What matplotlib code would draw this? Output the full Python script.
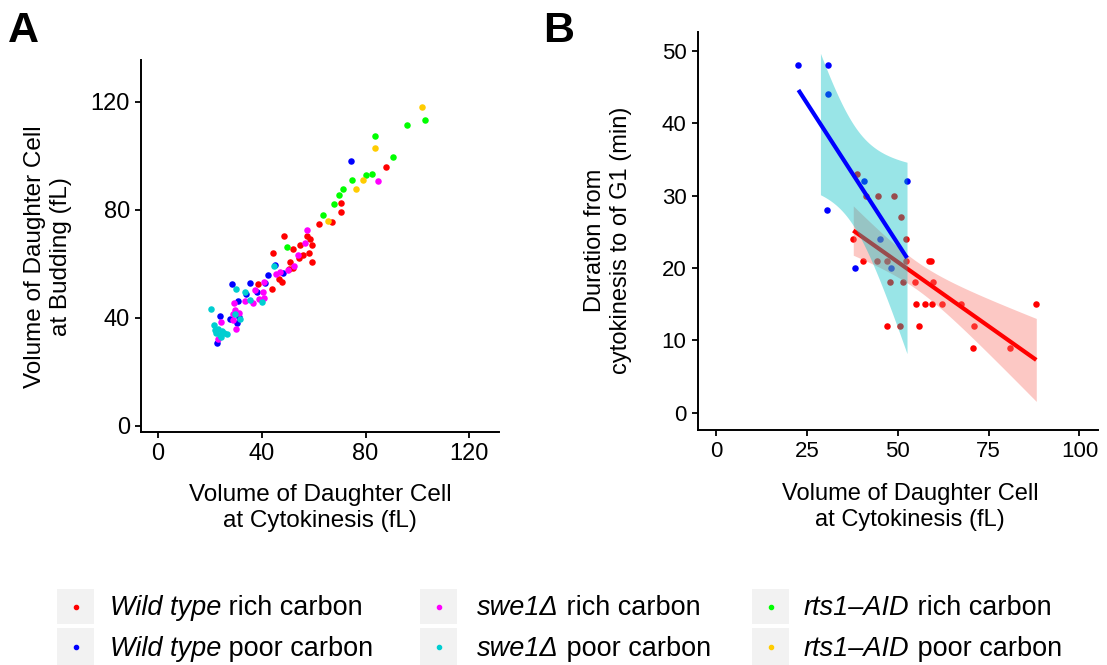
import numpy as np
import matplotlib
matplotlib.use("Agg")
import matplotlib.pyplot as plt
from matplotlib.patches import Rectangle
from matplotlib.lines import Line2D

plt.rcParams['font.family'] = ['Liberation Sans', 'DejaVu Sans']

W, H = 1107, 665

# ---------------- panel A data (volume at cytokinesis vs budding) ----------------
wt_rich_x = [87.9, 70.6, 70.6, 67.1, 62.1, 48.7, 57.3, 58.6, 59.2, 54.7, 51.9, 44.2,
             58.3, 56.0, 54.2, 50.9, 59.5, 52.2, 50.4, 46.7, 47.7, 43.9, 38.5]
wt_rich_y = [95.8, 82.3, 79.3, 75.3, 74.6, 70.2, 70.4, 69.0, 66.9, 66.9, 65.4, 63.8,
             63.8, 63.2, 62.0, 60.7, 60.7, 58.3, 57.9, 54.2, 53.3, 50.7, 52.3]
wt_poor_x = [74.2, 28.7, 35.3, 33.8, 30.8, 42.6, 45.0, 41.3, 38.1, 48.1, 24.1, 27.8,
             30.6, 22.7, 31.4]
wt_poor_y = [98.0, 52.3, 52.7, 48.8, 46.2, 55.8, 59.5, 52.7, 49.6, 56.7, 40.7, 39.4,
             37.9, 30.7, 40.4]
swe_rich_x = [84.7, 57.6, 56.5, 53.8, 52.4, 50.3, 47.0, 45.4, 40.9, 37.4, 40.4, 41.0,
              39.0, 36.8, 33.6, 29.4, 29.7, 31.4, 29.1, 28.8, 30.1, 24.2, 23.3]
swe_rich_y = [90.7, 72.5, 67.8, 63.1, 59.1, 57.7, 57.0, 56.2, 53.2, 50.2, 49.4, 47.4,
              46.8, 45.6, 46.2, 45.3, 42.8, 41.6, 41.4, 39.1, 35.7, 38.4, 32.3]
swe_poor_x = [20.6, 30.1, 33.6, 35.3, 40.1, 44.6, 29.9, 31.7, 21.8, 22.1, 23.3, 24.6,
              25.5, 26.5, 24.0, 22.4, 24.4]
swe_poor_y = [43.1, 50.5, 49.6, 46.5, 45.8, 59.3, 41.4, 39.4, 37.3, 35.4, 36.0, 35.2,
              34.2, 33.8, 33.6, 34.4, 33.0]
rts_rich_x = [102.9, 95.9, 83.8, 90.6, 82.3, 80.1, 74.6, 71.5, 69.7, 67.7, 63.7, 49.7]
rts_rich_y = [113.2, 111.4, 107.3, 99.6, 93.2, 92.8, 91.1, 87.8, 85.3, 82.0, 78.1, 66.3]
rts_poor_x = [101.8, 83.8, 79.1, 76.2, 65.6]
rts_poor_y = [118.1, 102.7, 91.0, 87.5, 75.7]

# ---------------- panel B data (wild type only) ----------------
b_rich_x = [38.8, 41.2, 44.5, 48.9, 50.9, 37.7, 52.2, 40.3, 44.2, 46.9, 52.2, 58.5,
            59.1, 47.8, 51.5, 54.6, 59.7, 54.9, 57.5, 59.4, 62.2, 67.3, 88.1, 46.9,
            50.5, 55.9, 70.9, 70.7, 80.9]
b_rich_y = [33, 30, 30, 30, 27, 24, 24, 21, 21, 21, 21, 21,
            21, 18, 18, 18, 18, 15, 15, 15, 15, 15, 15, 12,
            12, 12, 12, 9, 9]
b_poor_x = [22.6, 30.7, 30.7, 30.4, 40.7, 52.5, 38.2, 45.0, 48.2]
b_poor_y = [48, 48, 44, 28, 32, 32, 20, 24, 20]

colors = {
    'wt_rich': '#FF0000', 'wt_poor': '#0000FF',
    'swe_rich': '#FF00FF', 'swe_poor': '#00CED1',
    'rts_rich': '#00FF00', 'rts_poor': '#FFCC00',
}

fig = plt.figure(figsize=(W / 100, H / 100), dpi=100)


def px_axes(l, t, r, b):
    return fig.add_axes([l / W, 1 - b / H, (r - l) / W, (b - t) / H])


def style(ax, size):
    for s in ['top', 'right']:
        ax.spines[s].set_visible(False)
    for s in ['left', 'bottom']:
        ax.spines[s].set_linewidth(1.4)
    ax.tick_params(direction='out', length=4, width=1.3, pad=4,
                   labelsize=size, colors='black')


# ---- panel A ----
axA = px_axes(141, 60, 499, 432)
pts = [(wt_rich_x, wt_rich_y, 'wt_rich'), (wt_poor_x, wt_poor_y, 'wt_poor'),
       (swe_rich_x, swe_rich_y, 'swe_rich'), (swe_poor_x, swe_poor_y, 'swe_poor'),
       (rts_rich_x, rts_rich_y, 'rts_rich'), (rts_poor_x, rts_poor_y, 'rts_poor')]
for xs, ys, key in pts:
    axA.scatter(xs, ys, s=22, color=colors[key], linewidths=0, zorder=3)
axA.set_xlim(-6.5, 131.4)
axA.set_ylim(-2.3, 135.4)
axA.set_xticks([0, 40, 80, 120])
axA.set_yticks([0, 40, 80, 120])
style(axA, 17)

# ---- panel B ----
axB = px_axes(697.5, 32, 1098, 430)
axB.scatter(b_rich_x, b_rich_y, s=22, color=colors['wt_rich'], linewidths=0, zorder=2)
axB.scatter(b_poor_x, b_poor_y, s=22, color=colors['wt_poor'], linewidths=0, zorder=2)


def smooth(ax, xs, ys, tval, line_c, fill_c, z):
    x = np.asarray(xs, float)
    y = np.asarray(ys, float)
    slope, icpt = np.polyfit(x, y, 1)
    n = len(x)
    res = y - (slope * x + icpt)
    s = np.sqrt(np.sum(res ** 2) / (n - 2))
    sxx = np.sum((x - x.mean()) ** 2)
    gx = np.linspace(x.min(), x.max(), 80)
    fit = slope * gx + icpt
    se = s * np.sqrt(1 / n + (gx - x.mean()) ** 2 / sxx)
    lo, hi = fit - tval * se, fit + tval * se
    ok = (hi <= 50) & (lo >= 0)   # values outside the y limits are dropped
    ax.fill_between(gx[ok], lo[ok], hi[ok], color=fill_c, alpha=0.4,
                    linewidth=0, zorder=z)
    ax.plot(gx, fit, color=line_c, lw=3, solid_capstyle='butt', zorder=z + 0.5)


smooth(axB, b_rich_x, b_rich_y, 2.052, '#FF0000', '#F8766D', 4)
smooth(axB, b_poor_x, b_poor_y, 2.365, '#0000FF', '#00BFC4', 5)
axB.set_xlim(-5.2, 105.1)
axB.set_ylim(-2.4, 52.6)
axB.set_xticks([0, 25, 50, 75, 100])
axB.set_yticks([0, 10, 20, 30, 40, 50])
style(axB, 16)


def ftext(x, y, s, **kw):
    return fig.text(x / W, 1 - y / H, s, **kw)


# axis titles
ftext(48, 257, 'Volume of Daughter Cell\nat Budding (fL)', rotation=90,
      ha='center', va='center', fontsize=17.5, multialignment='center')
ftext(320, 508, 'Volume of Daughter Cell\nat Cytokinesis (fL)',
      ha='center', va='center', fontsize=17.5, multialignment='center')
ftext(608, 240, 'Duration from\ncytokinesis to of G1 (min)', rotation=90,
      ha='center', va='center', fontsize=17, multialignment='center')
ftext(910, 507, 'Volume of Daughter Cell\nat Cytokinesis (fL)',
      ha='center', va='center', fontsize=17, multialignment='center')

# panel letters
ftext(8, 42, 'A', fontsize=31, fontweight='bold', ha='left', va='baseline')
ftext(543, 42, 'B', fontsize=31, fontweight='bold', ha='left', va='baseline')

# ---- legend ----
legend_labels = [
    ('wt_rich', 'Wild type', ' rich carbon'),
    ('wt_poor', 'Wild type', ' poor carbon'),
    ('swe_rich', 'swe1\u0394', ' rich carbon'),
    ('swe_poor', 'swe1\u0394', ' poor carbon'),
    ('rts_rich', 'rts1\u2013AID', ' rich carbon'),
    ('rts_poor', 'rts1\u2013AID', ' poor carbon'),
]
col_box = [57, 420, 752]
col_text = [110, 477, 804]
row_box = [(589, 624), (628, 665)]
row_base = [615, 656]

renderer = fig.canvas.get_renderer()
for i, (key, ital, plain) in enumerate(legend_labels):
    c, r = i // 2, i % 2
    bx = col_box[c]
    top, bot = row_box[r]
    fig.add_artist(Rectangle((bx / W, 1 - bot / H), 37 / W, (bot - top) / H,
                             transform=fig.transFigure, facecolor='#F2F2F2',
                             edgecolor='none'))
    fig.add_artist(Line2D([(bx + 18.5) / W], [1 - (top + bot) / 2 / H], marker='o',
                          markersize=3, color=colors[key], linestyle='none',
                          transform=fig.transFigure))
    t1 = ftext(col_text[c], row_base[r], ital, fontsize=19.5, style='italic',
               ha='left', va='baseline')
    bb = t1.get_window_extent(renderer)
    fig.text(bb.x1 / W, 1 - row_base[r] / H, plain, fontsize=19.5,
             ha='left', va='baseline')

fig.savefig('out.png', dpi=100)
